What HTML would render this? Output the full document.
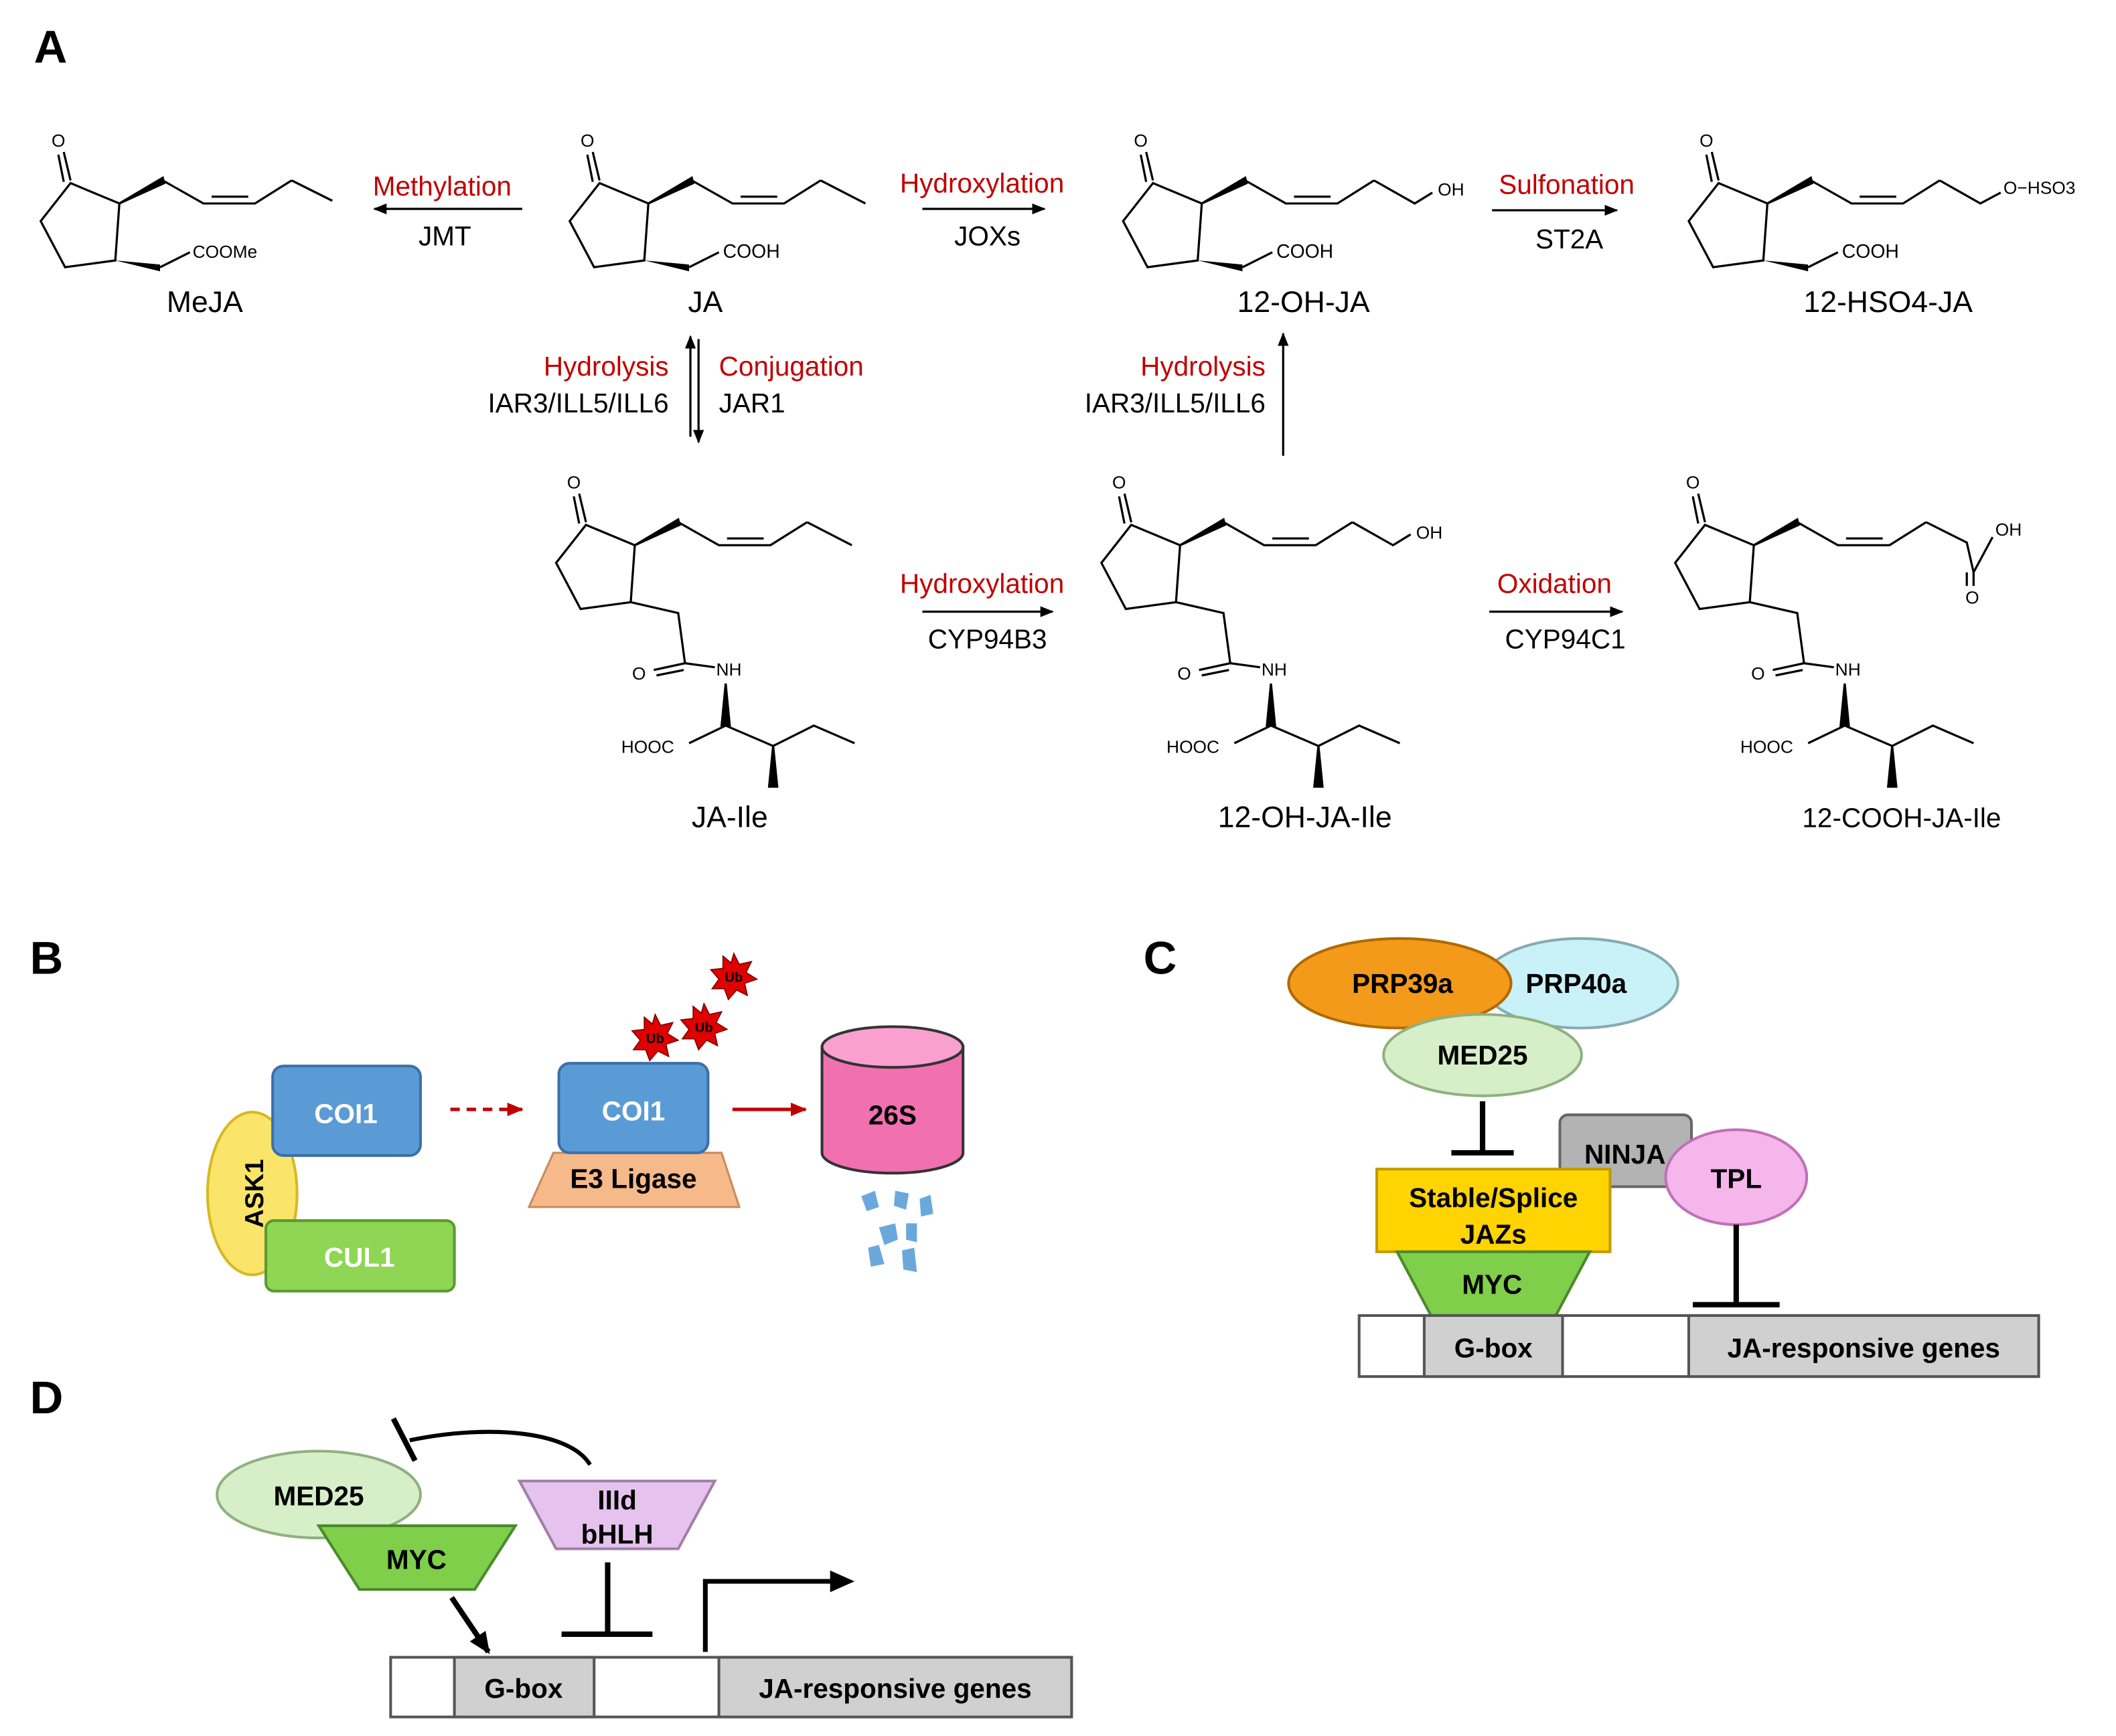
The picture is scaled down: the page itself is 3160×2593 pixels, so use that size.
<!DOCTYPE html>
<html><head><meta charset="utf-8"><style>
html,body{margin:0;padding:0;background:#fff}
svg{display:block}
text{font-family:"Liberation Sans",Arial,sans-serif}
</style></head><body>
<svg width="3160" height="2593" viewBox="0 0 1560 1280" xmlns="http://www.w3.org/2000/svg">
<defs>
<marker id="ah" markerWidth="10" markerHeight="8" refX="9" refY="4" orient="auto" markerUnits="userSpaceOnUse"><path d="M0,0 L10,4 L0,8 z" fill="#000"/></marker>
<marker id="ahr" markerWidth="12" markerHeight="10" refX="11" refY="5" orient="auto" markerUnits="userSpaceOnUse"><path d="M0,0 L12,5 L0,10 z" fill="#c00000"/></marker>
<marker id="ahb" markerWidth="16" markerHeight="14" refX="14" refY="7" orient="auto" markerUnits="userSpaceOnUse"><path d="M0,0 L16,7 L0,14 z" fill="#000"/></marker>
<g id="ring" fill="none" stroke="#000" stroke-width="1.6">
<text x="38" y="108" font-size="13" stroke="none" fill="#000">O</text>
<line x1="47" y1="112" x2="52" y2="133"/><line x1="43" y1="114" x2="47" y2="134"/>
<polygon points="52,135 88,150 85,192 48,197 30,163"/>
<polygon points="88,150 120,131 121,135" fill="#000"/>
<polyline points="120,133 150,150 188,150 215,133"/>
<line x1="156" y1="145" x2="183" y2="145"/>
</g>
<g id="lower" fill="none" stroke="#000" stroke-width="1.6">
<polyline points="85,192 120,200 125,237"/>
<line x1="125" y1="237" x2="102" y2="242"/><line x1="124" y1="242" x2="104" y2="246"/>
<text x="86" y="249" font-size="13" stroke="none" fill="#000">O</text>
<line x1="125" y1="237" x2="147" y2="240"/>
<text x="148" y="246" font-size="13" stroke="none" fill="#000">NH</text>
<polygon points="155,252 152,283 158,283" fill="#000"/>
<line x1="155" y1="283" x2="128" y2="296"/>
<text x="78" y="303" font-size="13" stroke="none" fill="#000">HOOC</text>
<polyline points="155,283 190,298 220,283 250,296"/>
<polygon points="190,298 187,328 193,328" fill="#000"/>
</g>
</defs>

<!-- Panel letters -->
<g font-weight="bold" font-size="34" fill="#000">
<text x="25" y="46">A</text><text x="22" y="718">B</text><text x="843" y="718">C</text><text x="22" y="1042">D</text>
</g>

<!-- Top row structures -->
<g>
<use href="#ring"/>
<polyline points="215,133 245,148" fill="none" stroke="#000" stroke-width="1.6"/>
<polygon points="85,192 118,195 118,200" fill="#000"/><line x1="118" y1="197" x2="140" y2="186" stroke="#000" stroke-width="1.6"/>
<text x="142" y="190" font-size="13">COOMe</text>
<text x="151" y="230" font-size="22" text-anchor="middle">MeJA</text>
</g>
<g transform="translate(390,0)">
<use href="#ring"/>
<polyline points="215,133 248,150" fill="none" stroke="#000" stroke-width="1.6"/>
<polygon points="85,192 118,195 118,200" fill="#000"/><line x1="118" y1="197" x2="140" y2="186" stroke="#000" stroke-width="1.6"/>
<text x="143" y="190" font-size="14">COOH</text>
<text x="130" y="230" font-size="22" text-anchor="middle">JA</text>
</g>
<g transform="translate(798,0)">
<use href="#ring"/>
<polyline points="215,133 245,150 258,142" fill="none" stroke="#000" stroke-width="1.6"/>
<text x="262" y="144" font-size="13">OH</text>
<polygon points="85,192 118,195 118,200" fill="#000"/><line x1="118" y1="197" x2="140" y2="186" stroke="#000" stroke-width="1.6"/>
<text x="143" y="190" font-size="14">COOH</text>
<text x="163" y="230" font-size="22" text-anchor="middle">12-OH-JA</text>
</g>
<g transform="translate(1215,0)">
<use href="#ring"/>
<polyline points="215,133 245,150 260,142" fill="none" stroke="#000" stroke-width="1.6"/>
<text x="262" y="143" font-size="13">O−HSO3</text>
<polygon points="85,192 118,195 118,200" fill="#000"/><line x1="118" y1="197" x2="140" y2="186" stroke="#000" stroke-width="1.6"/>
<text x="143" y="190" font-size="14">COOH</text>
<text x="177" y="230" font-size="22" text-anchor="middle">12-HSO4-JA</text>
</g>

<!-- Bottom row structures -->
<g transform="translate(380,252)">
<use href="#ring"/><use href="#lower"/>
<polyline points="215,133 248,150" fill="none" stroke="#000" stroke-width="1.6"/>
<text x="158" y="358" font-size="22" text-anchor="middle">JA-Ile</text>
</g>
<g transform="translate(782,252)">
<use href="#ring"/><use href="#lower"/>
<polyline points="215,133 245,150 258,142" fill="none" stroke="#000" stroke-width="1.6"/>
<text x="262" y="145" font-size="13">OH</text>
<text x="180" y="358" font-size="22" text-anchor="middle">12-OH-JA-Ile</text>
</g>
<g transform="translate(1205,252)">
<use href="#ring"/><use href="#lower"/>
<polyline points="215,133 245,148 250,170" fill="none" stroke="#000" stroke-width="1.6"/>
<line x1="250" y1="170" x2="264" y2="144" stroke="#000" stroke-width="1.6"/>
<line x1="250" y1="170" x2="250" y2="180" stroke="#000" stroke-width="1.6"/>
<line x1="245" y1="170" x2="245" y2="180" stroke="#000" stroke-width="1.6"/>
<text x="266" y="143" font-size="13">OH</text>
<text x="244" y="193" font-size="13">O</text>
<text x="197" y="358" font-size="20" text-anchor="middle">12-COOH-JA-Ile</text>
</g>

<!-- Panel A reactions -->
<g font-size="20">
<text x="326" y="144" fill="#c00000" text-anchor="middle">Methylation</text>
<text x="328" y="181" text-anchor="middle">JMT</text>
<line x1="385" y1="154" x2="276" y2="154" stroke="#000" stroke-width="1.6" marker-end="url(#ah)"/>
<text x="724" y="142" fill="#c00000" text-anchor="middle">Hydroxylation</text>
<text x="728" y="181" text-anchor="middle">JOXs</text>
<line x1="680" y1="154" x2="770" y2="154" stroke="#000" stroke-width="1.6" marker-end="url(#ah)"/>
<text x="1155" y="143" fill="#c00000" text-anchor="middle">Sulfonation</text>
<text x="1157" y="183" text-anchor="middle">ST2A</text>
<line x1="1100" y1="155" x2="1192" y2="155" stroke="#000" stroke-width="1.6" marker-end="url(#ah)"/>
<text x="493" y="277" fill="#c00000" text-anchor="end">Hydrolysis</text>
<text x="493" y="304" text-anchor="end">IAR3/ILL5/ILL6</text>
<text x="530" y="277" fill="#c00000">Conjugation</text>
<text x="530" y="304">JAR1</text>
<line x1="509" y1="322" x2="509" y2="248" stroke="#000" stroke-width="1.6" marker-end="url(#ah)"/>
<line x1="515" y1="250" x2="515" y2="326" stroke="#000" stroke-width="1.6" marker-end="url(#ah)"/>
<text x="933" y="277" fill="#c00000" text-anchor="end">Hydrolysis</text>
<text x="933" y="304" text-anchor="end">IAR3/ILL5/ILL6</text>
<line x1="946" y1="336" x2="946" y2="246" stroke="#000" stroke-width="1.6" marker-end="url(#ah)"/>
<text x="724" y="437" fill="#c00000" text-anchor="middle">Hydroxylation</text>
<text x="728" y="478" text-anchor="middle">CYP94B3</text>
<line x1="680" y1="451" x2="776" y2="451" stroke="#000" stroke-width="1.6" marker-end="url(#ah)"/>
<text x="1146" y="437" fill="#c00000" text-anchor="middle">Oxidation</text>
<text x="1154" y="478" text-anchor="middle">CYP94C1</text>
<line x1="1098" y1="451" x2="1196" y2="451" stroke="#000" stroke-width="1.6" marker-end="url(#ah)"/>
</g>

<!-- Panel B -->
<g font-weight="bold" font-size="20" fill="#fff">
<ellipse cx="186" cy="880" rx="33" ry="60" fill="#fbe46a" stroke="#d8b820" stroke-width="2"/>
<text x="0" y="0" transform="translate(194,880) rotate(-90)" text-anchor="middle" fill="#000" font-size="19">ASK1</text>
<rect x="196" y="900" width="139" height="52" rx="6" fill="#8ed653" stroke="#5a9a30" stroke-width="2"/>
<text x="265" y="934" text-anchor="middle">CUL1</text>
<rect x="201" y="786" width="109" height="66" rx="8" fill="#5b9bd5" stroke="#3a70a8" stroke-width="2"/>
<text x="255" y="828" text-anchor="middle">COI1</text>
<line x1="332" y1="818" x2="385" y2="818" stroke="#c00000" stroke-width="2.5" stroke-dasharray="7,5" marker-end="url(#ahr)"/>
<polygon points="408,850 532,850 545,890 390,890" fill="#f6b98a" stroke="#c98a5a" stroke-width="1.5"/>
<text x="467" y="876" text-anchor="middle" fill="#000">E3 Ligase</text>
<rect x="412" y="784" width="110" height="66" rx="8" fill="#5b9bd5" stroke="#3a70a8" stroke-width="2"/>
<text x="467" y="826" text-anchor="middle">COI1</text>
<line x1="540" y1="818" x2="594" y2="818" stroke="#c00000" stroke-width="2.5" marker-end="url(#ahr)"/>
<path d="M606,772 L606,850 A52,15 0 0 0 710,850 L710,772 Z" fill="#f070b0" stroke="#333" stroke-width="2"/>
<ellipse cx="658" cy="772" rx="52" ry="15" fill="#f9a0cf" stroke="#333" stroke-width="2"/>
<text x="658" y="829" text-anchor="middle" fill="#000">26S</text>
<g fill="#6aa8dc">
<path d="M635,882 l10,-4 l3,12 l-9,3z"/><path d="M660,878 l10,2 l-2,12 l-9,-3z"/><path d="M678,884 l8,-3 l2,14 l-9,2z"/>
<path d="M648,905 l12,-3 l2,12 l-10,4z"/><path d="M668,902 l8,0 l0,14 l-8,-2z"/><path d="M640,920 l8,-2 l4,14 l-10,2z"/><path d="M665,922 l9,-2 l2,18 l-10,-2z"/>
</g>
<g fill="#e00000" stroke="#700" stroke-width="0.8">
<polygon points="483,748 487,756 496,754 492,762 500,767 491,770 493,779 485,775 479,782 476,774 467,774 472,767 466,760 475,759 475,750 481,755"/>
<polygon points="519,740 523,748 532,746 528,754 536,759 527,762 529,771 521,767 515,774 512,766 503,766 508,759 502,752 511,751 511,742 517,747"/>
<polygon points="541,703 545,711 554,709 550,717 558,722 549,725 551,734 543,730 537,737 534,729 525,729 530,722 524,715 533,714 533,705 539,710"/>
</g>
<g fill="#000" font-size="10" font-weight="bold"><text x="483" y="769" text-anchor="middle">Ub</text><text x="519" y="761" text-anchor="middle">Ub</text><text x="541" y="724" text-anchor="middle">Ub</text></g>
</g>

<!-- Panel C -->
<g font-weight="bold" font-size="20" fill="#000">
<ellipse cx="1165" cy="725" rx="72" ry="33" fill="#c9f1f8" stroke="#88aab0" stroke-width="2"/>
<ellipse cx="1032" cy="725" rx="82" ry="33" fill="#f39a1a" stroke="#b06a00" stroke-width="2"/>
<text x="1034" y="732" text-anchor="middle">PRP39a</text>
<text x="1162" y="732" text-anchor="middle">PRP40a</text>
<ellipse cx="1093" cy="778" rx="73" ry="30" fill="#d6efc9" stroke="#90b080" stroke-width="2"/>
<text x="1093" y="785" text-anchor="middle">MED25</text>
<line x1="1093" y1="812" x2="1093" y2="850" stroke="#000" stroke-width="4"/>
<line x1="1070" y1="850" x2="1116" y2="850" stroke="#000" stroke-width="4"/>
<rect x="1150" y="822" width="97" height="53" rx="6" fill="#b3b3b3" stroke="#666" stroke-width="2"/>
<text x="1198" y="858" text-anchor="middle">NINJA</text>
<ellipse cx="1280" cy="868" rx="52" ry="35" fill="#f5b6ec" stroke="#c070b8" stroke-width="2"/>
<text x="1280" y="876" text-anchor="middle">TPL</text>
<rect x="1015" y="862" width="172" height="61" fill="#ffd400" stroke="#c09a00" stroke-width="2"/>
<text x="1101" y="890" text-anchor="middle">Stable/Splice</text>
<text x="1101" y="917" text-anchor="middle">JAZs</text>
<polygon points="1030,923 1172,923 1147,970 1055,970" fill="#7fcf4a" stroke="#4a8a2a" stroke-width="2"/>
<text x="1100" y="954" text-anchor="middle">MYC</text>
<line x1="1280" y1="903" x2="1280" y2="962" stroke="#000" stroke-width="4"/>
<line x1="1248" y1="962" x2="1312" y2="962" stroke="#000" stroke-width="4"/>
<rect x="1002" y="970" width="501" height="45" fill="#fff" stroke="#555" stroke-width="2"/>
<rect x="1050" y="970" width="102" height="45" fill="#d0d0d0" stroke="#555" stroke-width="2"/>
<rect x="1245" y="970" width="258" height="45" fill="#d0d0d0" stroke="#555" stroke-width="2"/>
<text x="1101" y="1001" text-anchor="middle">G-box</text>
<text x="1374" y="1001" text-anchor="middle">JA-responsive genes</text>
</g>

<!-- Panel D -->
<g font-weight="bold" font-size="20" fill="#000">
<path d="M435,1080 C420,1055 360,1050 302,1062" fill="none" stroke="#000" stroke-width="3"/>
<line x1="290" y1="1046" x2="306" y2="1077" stroke="#000" stroke-width="4"/>
<ellipse cx="235" cy="1102" rx="75" ry="32" fill="#d6efc9" stroke="#90b080" stroke-width="2"/>
<text x="235" y="1110" text-anchor="middle">MED25</text>
<polygon points="235,1125 380,1125 350,1172 265,1172" fill="#7fcf4a" stroke="#4a8a2a" stroke-width="2"/>
<text x="307" y="1157" text-anchor="middle">MYC</text>
<polygon points="383,1092 527,1092 500,1142 410,1142" fill="#e6c3ee" stroke="#a080a8" stroke-width="2"/>
<text x="455" y="1113" text-anchor="middle">IIId</text>
<text x="455" y="1138" text-anchor="middle">bHLH</text>
<line x1="333" y1="1178" x2="360" y2="1218" stroke="#000" stroke-width="4" marker-end="url(#ahb)"/>
<line x1="448" y1="1152" x2="448" y2="1205" stroke="#000" stroke-width="4"/>
<line x1="414" y1="1205" x2="481" y2="1205" stroke="#000" stroke-width="4"/>
<polyline points="520,1218 520,1166 615,1166" fill="none" stroke="#000" stroke-width="3.5"/>
<polygon points="612,1158 630,1166 612,1174" fill="#000"/>
<rect x="288" y="1222" width="502" height="44" fill="#fff" stroke="#555" stroke-width="2"/>
<rect x="335" y="1222" width="103" height="44" fill="#d0d0d0" stroke="#555" stroke-width="2"/>
<rect x="530" y="1222" width="260" height="44" fill="#d0d0d0" stroke="#555" stroke-width="2"/>
<text x="386" y="1252" text-anchor="middle">G-box</text>
<text x="660" y="1252" text-anchor="middle">JA-responsive genes</text>
</g>
</svg>
</body></html>
